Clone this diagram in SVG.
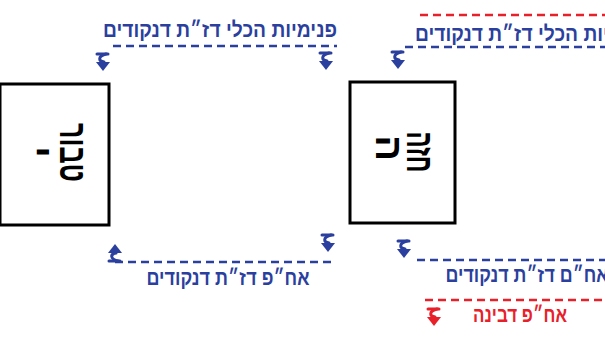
<svg xmlns="http://www.w3.org/2000/svg" width="605" height="338" viewBox="0 0 605 338">
<style>
.box{fill:#fff;stroke:#000;stroke-width:3}
.bt{font-family:"Liberation Sans","DejaVu Sans",sans-serif;font-weight:bold;font-size:38px;fill:#000;text-anchor:middle}
.lb{font-family:"Liberation Sans","DejaVu Sans",sans-serif;font-weight:bold;font-size:21px;fill:#2b3f9e;text-anchor:middle}
.lr{font-family:"Liberation Sans","DejaVu Sans",sans-serif;font-weight:bold;font-size:21px;fill:#e8202a;text-anchor:middle}
.db{fill:none;stroke:#2b3f9e;stroke-width:2.5;stroke-dasharray:8 5}
.dr{fill:none;stroke:#e8202a;stroke-width:2.5;stroke-dasharray:8 5}
</style>
<defs>
<g id="mk">
<path d="M-6,-8 H5" stroke-width="3" stroke-linecap="round"/>
<path d="M3,-8 C-5,-6 -5,-1 1,0" stroke-width="3" fill="none" stroke-linecap="round"/>
<path d="M-7,0 L7,0 L0,9 Z" stroke="none"/>
</g>
</defs>
<g id="node-left">
<rect class="box" x="0" y="84" width="109" height="141"/>
<text class="bt" transform="translate(71,152.5) rotate(90)" dy="11" textLength="59" lengthAdjust="spacingAndGlyphs">טבור</text>
<text class="bt" transform="translate(37,152) rotate(90)" dy="11">י</text>
</g>
<g id="node-right">
<rect class="box" x="350" y="82" width="105" height="141"/>
<text class="bt" transform="translate(418,152) rotate(90)" dy="11" textLength="41" lengthAdjust="spacingAndGlyphs">חזה</text>
<text class="bt" transform="translate(387,148) rotate(90)" dy="11">ה</text>
</g>
<g id="connectors">
<path class="db" d="M113,46 H337"/>
<path class="db" d="M405,47 H605"/>
<path class="db" d="M115,262 H335"/>
<path class="db" d="M417,260 H605"/>
<path class="dr" d="M420,15 H605"/>
<path class="dr" d="M425,300 H605"/>
<g fill="#2b3f9e" stroke="#2b3f9e">
<use href="#mk" transform="translate(103,62)"/>
<use href="#mk" transform="translate(326,61)"/>
<use href="#mk" transform="translate(398,60)"/>
<use href="#mk" transform="translate(115,253) scale(1,-1)"/>
<use href="#mk" transform="translate(328,243)"/>
<use href="#mk" transform="translate(404,249)"/>
</g>
<g fill="#e8202a" stroke="#e8202a">
<use href="#mk" transform="translate(434,317)"/>
</g>
</g>
<g id="labels">
<text class="lb" x="220" y="37" textLength="234" lengthAdjust="spacingAndGlyphs">פנימיות הכלי דז״ת דנקודים</text>
<text class="lb" x="532" y="41" textLength="234" lengthAdjust="spacingAndGlyphs">פנימיות הכלי דז״ת דנקודים</text>
<text class="lb" x="228" y="285" textLength="163" lengthAdjust="spacingAndGlyphs">אח״פ דז״ת דנקודים</text>
<text class="lb" x="527" y="282" textLength="163" lengthAdjust="spacingAndGlyphs">אח״ם דז״ת דנקודים</text>
<text class="lr" x="520" y="322" textLength="94" lengthAdjust="spacingAndGlyphs">אח״פ דבינה</text>
</g>
</svg>
